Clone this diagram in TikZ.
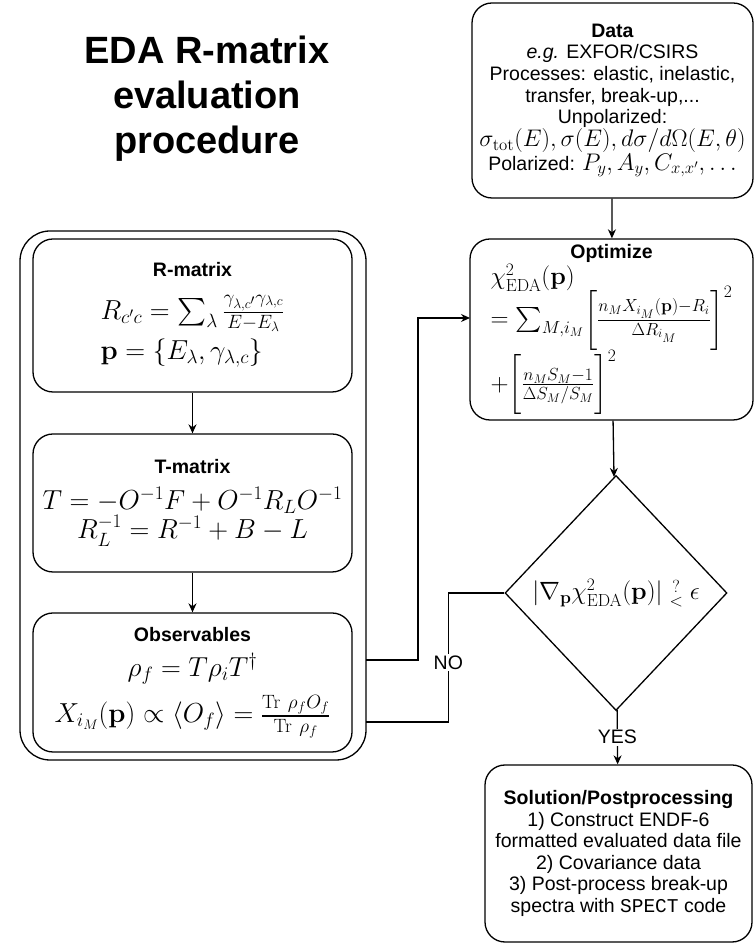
\RequirePackage{fix-cm}
\documentclass[tikz,border=0pt]{standalone}
\usepackage{amsmath, amssymb}
\usepackage[no-math]{fontspec}
\setmainfont{Liberation Sans}
\setmonofont{Liberation Mono}
\usepackage{tikz}
\usetikzlibrary{positioning, shapes.geometric, arrows.meta}

\newcommand{\bodyfont}{\fontsize{19.5}{21.6}\selectfont}
\newcommand{\titlefont}{\fontsize{38}{45}\selectfont\bfseries}
\newcommand{\datamath}{\fontsize{24}{26}\selectfont}
\newcommand{\optmath}{\fontsize{25}{27}\selectfont}
\newcommand{\leftmath}{\fontsize{27.5}{31}\selectfont}

\tikzset{
  box/.style={draw, rounded corners=20pt, line width=1.3pt, align=center, inner sep=0pt, font=\bodyfont},
  flow/.style={-{Stealth[length=9pt, width=8pt]}, line width=1.3pt},
  link/.style={line width=1.3pt},
  tag/.style={fill=white, inner sep=1.5pt, font=\bodyfont}
}

\begin{document}
\begin{tikzpicture}[x=1pt, y=1pt]
    \useasboundingbox (0,0) rectangle (754,944);

    % Title
    \node[font=\titlefont, align=center] (title) at (207,845) {EDA R-matrix\\evaluation\\procedure};

    % Left column: model chain
    \node[box, rounded corners=30pt, minimum width=346pt, minimum height=529pt] (outer) at (193,448.5) {};
    \node[box, minimum width=319pt, minimum height=153pt] (rmat) at (192.5,628.5) {\textbf{R-matrix}\\[17pt]
      {\leftmath\begin{tabular}[t]{@{}l@{}}
        $R_{c'c} = \sum_\lambda \frac{\gamma_{\lambda,c'}\gamma_{\lambda,c}}{E-E_\lambda}$\\[9pt]
        $\mathbf{p} = \{E_\lambda, \gamma_{\lambda,c}\}$
      \end{tabular}}};
    \node[box, minimum width=319pt, minimum height=138pt] (tmat) at (192.5,441) {\textbf{T-matrix}\\[12pt]
      {\leftmath $T = -O^{-1}F + O^{-1}R_L O^{-1}$}\\[0pt]
      {\leftmath $R_L^{-1} = R^{-1} + B - L$}};
    \node[box, minimum width=319pt, minimum height=139pt] (obs) at (192.5,261.5) {\textbf{Observables}\\[11pt]
      {\leftmath $\rho_f = T\rho_i T^\dagger$}\\[10pt]
      {\leftmath $X_{i_M}(\mathbf{p}) \propto \langle O_f\rangle = \frac{\mathrm{Tr}\ \rho_f O_f}{\mathrm{Tr}\ \rho_f}$}};

    % Right column: fit loop
    \node[box, minimum width=281pt, minimum height=195pt] (data) at (612.5,843.5) {\textbf{Data}\\
      \textit{e.g.} EXFOR/CSIRS\\
      Processes: elastic, inelastic,\\
      transfer, break-up,...\\
      Unpolarized:\\
      {\datamath $\sigma_{\mathrm{tot}}(E), \sigma(E), d\sigma/d\Omega(E,\theta)$}\\
      Polarized: {\datamath $P_y, A_y, C_{x,x'}, \ldots$}};
    \node[box, minimum width=283pt, minimum height=181pt] (opt) at (611.5,614.5) {\textbf{Optimize}\\[1pt]
      {\optmath\begin{tabular}[t]{@{}l@{}}
        $\chi^2_{\mathrm{EDA}}(\mathbf{p})$\\[-7pt]
        $= \sum_{M,i_M} \biggl[\frac{n_M X_{i_M}(\mathbf{p})-R_i}{\Delta R_{i_M}}\biggr]^2$\\[8pt]
        $+ \biggl[\frac{n_M S_M-1}{\Delta S_M/S_M}\biggr]^2$
      \end{tabular}}};
    \node[diamond, draw, line width=1.3pt, aspect=0.95, inner sep=0pt, minimum width=222pt, minimum height=235pt, font=\optmath] (check) at (616,351)
      {$\lvert\nabla_{\mathbf{p}}\chi^2_{\mathrm{EDA}}(\mathbf{p})\rvert \mathrel{\substack{?\\<}} \epsilon$};
    \node[box, minimum width=267pt, minimum height=177pt] (sol) at (618.5,90.5) {\textbf{Solution/Postprocessing}\\
      1) Construct ENDF-6\\
      formatted evaluated data file\\
      2) Covariance data\\
      3) Post-process break-up\\
      spectra with \texttt{SPECT} code};

    % Loop ends on the container and the optimizer
    \coordinate (fbout) at (366,284);
    \coordinate (noin) at (366,222);
    \coordinate (optin) at (470,626);

    % Connectors
    \foreach \a/\b in {rmat/tmat, tmat/obs, data/opt, opt/check}
      \draw[flow] (\a) -- (\b);
    \draw[flow] (check) -- node[tag] {YES} (sol);
    \draw[link] (check.west) -- ++(-56,0) |- node[tag, pos=0.27] {NO} (noin);
    \draw[flow] (fbout) -- ++(52,0) |- (optin);
\end{tikzpicture}
\end{document}
